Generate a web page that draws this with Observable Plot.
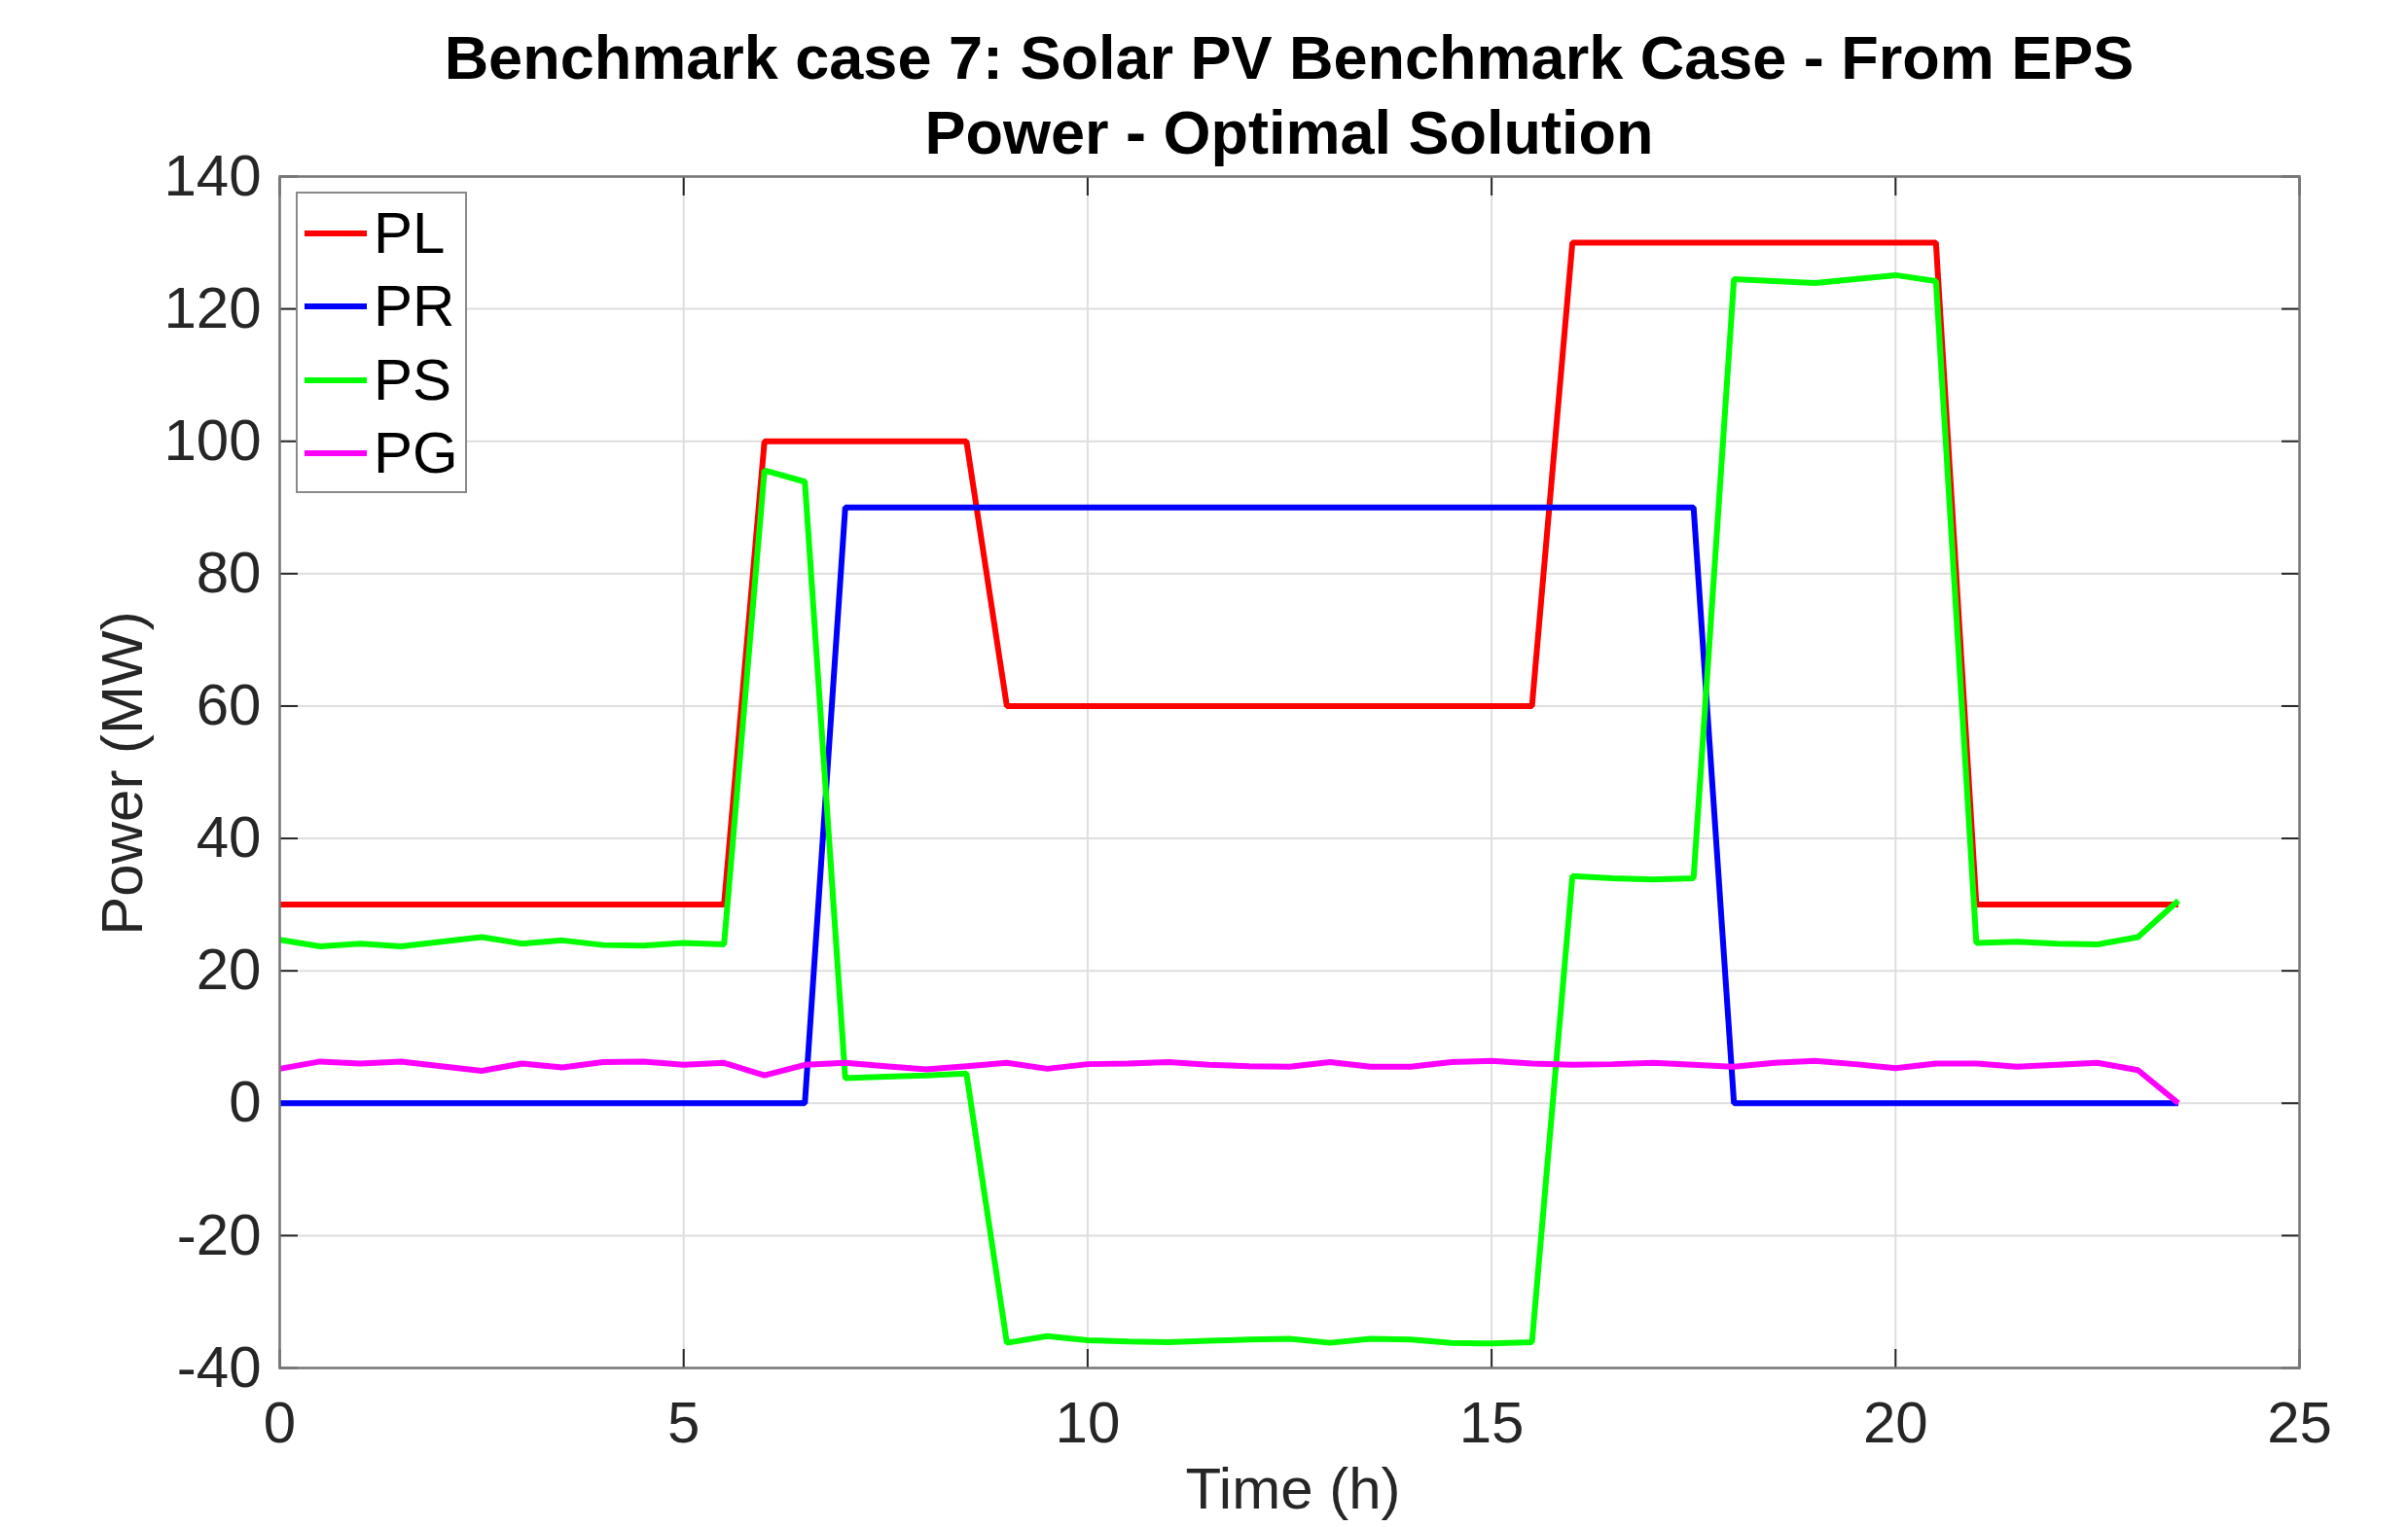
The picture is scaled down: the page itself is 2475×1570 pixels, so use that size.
<!DOCTYPE html>
<html>
<head>
<meta charset="utf-8">
<script src="https://cdn.jsdelivr.net/npm/d3@7"></script>
<script src="https://cdn.jsdelivr.net/npm/@observablehq/plot@0.6"></script>
<style>
  html, body { margin: 0; padding: 0; background: #fff; }
  body { width: 2475px; height: 1570px; position: relative; overflow: hidden;
         font-family: "Liberation Sans", Arial, Helvetica, sans-serif; }
  #title { position: relative; height: 100px; z-index: 2; }
  .tline { position: absolute; left: 287px; width: 2076px; text-align: center;
           font-weight: bold; font-size: 63px; line-height: 77px; color: #000; white-space: nowrap; }
  .alabel { position: absolute; font-size: 60px; line-height: 50px; color: #262626;
            text-align: center; white-space: nowrap; }
  #legend { position: absolute; left: 304px; top: 197px; width: 172px; height: 306px;
            border: 2.5px solid #8a8a8a; background: #fff; }
  .lrow { position: absolute; left: 0; height: 60px; width: 172px; }
  .lswatch { position: absolute; left: 7px; top: 27px; width: 64px; height: 6px; }
  .ltext { position: absolute; left: 78px; top: 0; font-size: 60px; line-height: 60px; color: #000; }
</style>
</head>
<body>
<div id="title">
  <div class="tline" style="top:21px">Benchmark case 7: Solar PV Benchmark Case - From EPS</div>
  <div class="tline" style="top:98px">Power - Optimal Solution</div>
</div>
<div id="chart"></div>
<div class="alabel" style="left:1029px; width:600px; top:1506px;">Time (h)</div>
<div class="alabel" style="left:-174px; width:600px; top:770px; transform: rotate(-90deg);">Power (MW)</div>
<div id="legend"></div>
<script>
// ---- data ----
const time = [0,0.5,1,1.5,2,2.5,3,3.5,4,4.5,5,5.5,6,6.5,7,7.5,8,8.5,9,9.5,10,10.5,11,11.5,
              12,12.5,13,13.5,14,14.5,15,15.5,16,16.5,17,17.5,18,18.5,19,19.5,20,20.5,21,21.5,22,22.5,23,23.5];
const PL = [30,30,30,30,30,30,30,30,30,30,30,30,
            100,100,100,100,100,100,
            60,60,60,60,60,60,60,60,60,60,60,60,60,60,
            130,130,130,130,130,130,130,130,130,130,
            30,30,30,30,30,30];
const PR = [0,0,0,0,0,0,0,0,0,0,0,0,0,0,
            90,90,90,90,90,90,90,90,90,90,90,90,90,90,90,90,90,90,90,90,90,90,
            0,0,0,0,0,0,0,0,0,0,0,0];
const PS = [24.7,23.7,24.1,23.7,24.4,25.1,24.1,24.6,23.9,23.8,24.2,24.0,
            95.6,93.9,3.8,4.0,4.2,4.5,
            -36.2,-35.2,-35.8,-36.0,-36.1,-35.9,-35.7,-35.6,-36.2,-35.6,-35.7,-36.2,-36.3,-36.1,
            34.3,34.0,33.8,34.0,
            124.5,124.2,123.9,124.5,125.1,124.2,
            24.2,24.4,24.1,24.0,25.1,30.6];
const PG = [5.2,6.3,6.0,6.3,5.6,4.9,6.0,5.4,6.2,6.3,5.8,6.1,4.2,5.8,6.1,5.6,5.1,5.6,6.1,5.2,
            5.9,6.0,6.2,5.8,5.6,5.5,6.2,5.5,5.5,6.2,6.4,6.0,5.8,5.9,6.1,5.8,5.5,6.1,6.4,5.9,
            5.3,6.0,6.0,5.5,5.8,6.1,5.0,0];
const seriesNames = ["PL","PR","PS","PG"];
const seriesColors = ["#ff0000","#0000ff","#00ff00","#ff00ff"];
const xTicks = [0,5,10,15,20,25];
const yTicks = [-40,-20,0,20,40,60,80,100,120,140];

const seriesValues = {PL, PR, PS, PG};
const rows = [];
seriesNames.forEach(name => {
  seriesValues[name].forEach((v, i) => rows.push({series: name, t: time[i], v}));
});

const tickColor = "#262626";
const fmt = d => String(d);
const plot = Plot.plot({
  width: 2475,
  height: 1470,
  marginTop: 81,
  marginBottom: 164,
  marginLeft: 287,
  marginRight: 112,
  style: {fontFamily: '"Liberation Sans", Arial, Helvetica, sans-serif', fontSize: "60px", color: tickColor, background: "transparent"},
  x: {domain: [0, 25], ticks: xTicks},
  y: {domain: [-40, 140], ticks: yTicks},
  color: {domain: seriesNames, range: seriesColors},
  marks: [
    Plot.gridX(xTicks, {stroke: "#dedede", strokeOpacity: 1, strokeWidth: 2}),
    Plot.gridY(yTicks, {stroke: "#dedede", strokeOpacity: 1, strokeWidth: 2}),
    Plot.axisX(xTicks, {anchor: "bottom", tickSize: 0, tickPadding: 34, tickFormat: fmt, label: null, fontSize: 60, fill: tickColor}),
    Plot.axisY(yTicks, {anchor: "left", tickSize: 0, tickPadding: 19, tickFormat: fmt, label: null, fontSize: 60, fill: tickColor}),
    Plot.axisX(xTicks, {anchor: "bottom", tickSize: -19, tickFormat: () => "", label: null, stroke: tickColor, strokeWidth: 2}),
    Plot.axisX(xTicks, {anchor: "top", tickSize: -19, tickFormat: () => "", label: null, stroke: tickColor, strokeWidth: 2}),
    Plot.axisY(yTicks, {anchor: "left", tickSize: -19, tickFormat: () => "", label: null, stroke: tickColor, strokeWidth: 2}),
    Plot.axisY(yTicks, {anchor: "right", tickSize: -19, tickFormat: () => "", label: null, stroke: tickColor, strokeWidth: 2}),
    Plot.lineY(rows, {x: "t", y: "v", z: "series", stroke: "series", strokeWidth: 6, strokeLinejoin: "miter", strokeLinecap: "butt"}),
    Plot.frame({stroke: "#777777", strokeWidth: 2.5})
  ]
});
document.getElementById("chart").appendChild(plot);

// legend
const legend = document.getElementById("legend");
const rowTops = [11, 86, 162, 237];
seriesNames.forEach((name, i) => {
  const r = document.createElement("div");
  r.className = "lrow";
  r.style.top = rowTops[i] + "px";
  const sw = document.createElement("div");
  sw.className = "lswatch";
  sw.style.background = seriesColors[i];
  const tx = document.createElement("div");
  tx.className = "ltext";
  tx.textContent = name;
  r.appendChild(sw); r.appendChild(tx);
  legend.appendChild(r);
});
</script>
</body>
</html>
